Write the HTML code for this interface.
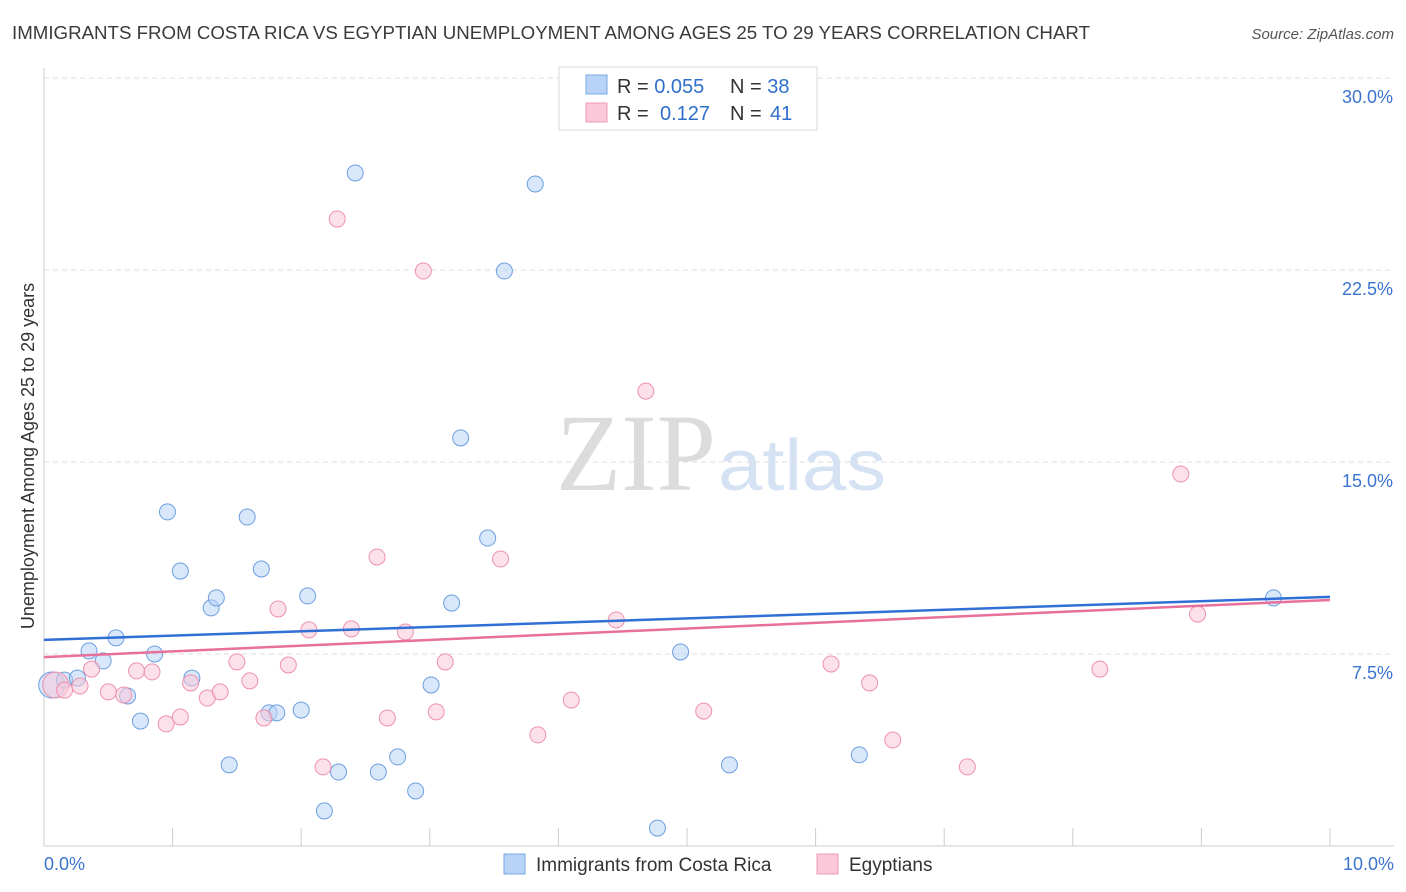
<!DOCTYPE html>
<html><head><meta charset="utf-8"><style>
body{margin:0;background:#fff;font-family:"Liberation Sans",sans-serif;}
svg{display:block}
</style></head><body>
<svg id="chart" width="1406" height="892">
<text x="12" y="39" font-size="18" fill="#3a3a3a" textLength="1078" lengthAdjust="spacingAndGlyphs">IMMIGRANTS FROM COSTA RICA VS EGYPTIAN UNEMPLOYMENT AMONG AGES 25 TO 29 YEARS CORRELATION CHART</text>
<text x="1394" y="39" font-size="15" fill="#555" font-style="italic" text-anchor="end">Source: ZipAtlas.com</text>
<text x="716" y="490" font-size="110" fill="#dcdcdc" text-anchor="end" font-family="Liberation Serif,serif" textLength="160" lengthAdjust="spacingAndGlyphs">ZIP</text>
<text x="718" y="490" font-size="72" fill="#d4e2f4" textLength="168" lengthAdjust="spacingAndGlyphs">atlas</text>
<text transform="translate(34,456) rotate(-90)" font-size="18" fill="#333" text-anchor="middle">Unemployment Among Ages 25 to 29 years</text>
<g id="grid"></g><g id="marks"></g>
<g>
<rect x="559" y="67" width="258" height="63" fill="#fff" stroke="#d8d8d8"/>
<rect x="586" y="75" width="21" height="19" fill="#b8d3f5" stroke="#7aa7e3"/>
<rect x="586" y="103" width="21" height="19" fill="#fac8d8" stroke="#f09ab8"/>
<text x="617" y="93" font-size="20" fill="#333">R = <tspan fill="#2f6fcc">0.055</tspan><tspan x="730">N = </tspan><tspan fill="#2f6fcc">38</tspan></text>
<text x="617" y="120" font-size="20" fill="#333">R = <tspan x="660" fill="#2f6fcc">0.127</tspan><tspan x="730">N = </tspan><tspan x="770" fill="#2f6fcc">41</tspan></text>
</g>
<g>
<rect x="504" y="854" width="21" height="20" fill="#b8d3f5" stroke="#7aa7e3"/>
<text x="536" y="871" font-size="19" fill="#333">Immigrants from Costa Rica</text>
<rect x="817" y="854" width="21" height="20" fill="#fac8d8" stroke="#f09ab8"/>
<text x="849" y="871" font-size="19" fill="#333">Egyptians</text>
</g>
</svg>
<script>
const yTicks=[7.5,15,22.5,30];
const yTickLabels=["7.5%","15.0%","22.5%","30.0%"];
const blueX=[0.06,0.16,0.26,0.35,0.46,0.56,0.65,0.75,0.86,0.96,1.06,1.15,1.30,1.34,1.44,1.58,1.69,1.75,1.81,2.00,2.05,2.18,2.29,2.42,2.60,2.75,2.89,3.01,3.17,3.24,3.45,3.58,3.82,4.77,4.95,5.33,6.34,9.56];
const blueY=[6.29,6.48,6.56,7.62,7.23,8.13,5.86,4.88,7.50,13.05,10.74,6.56,9.30,9.69,3.17,12.85,10.82,5.20,5.20,5.31,9.77,1.37,2.89,26.29,2.89,3.48,2.15,6.29,9.49,15.94,12.03,22.46,25.86,0.70,7.58,3.17,3.56,9.69];
const pinkX=[0.09,0.16,0.28,0.37,0.50,0.62,0.72,0.84,0.95,1.06,1.14,1.27,1.37,1.50,1.60,1.71,1.82,1.90,2.06,2.17,2.28,2.39,2.59,2.67,2.81,2.95,3.05,3.12,3.55,3.84,4.10,4.45,4.68,5.13,6.12,6.42,6.60,7.18,8.21,8.84,8.97];
const pinkY=[6.29,6.09,6.25,6.91,6.02,5.90,6.84,6.80,4.77,5.04,6.37,5.78,6.02,7.19,6.45,5.00,9.26,7.07,8.44,3.09,24.49,8.48,11.29,5.00,8.36,22.46,5.24,7.19,11.21,4.34,5.70,8.83,17.77,5.27,7.11,6.37,4.14,3.09,6.91,14.53,9.06];
const blueLine=[8.05,9.73], pinkLine=[7.38,9.61];
const X=v=>44+v/10*1286, Y=v=>846-v/30*768;
const NS="http://www.w3.org/2000/svg";
const grid=document.getElementById('grid'), marks=document.getElementById('marks');
function mk(p,tag,a){const e=document.createElementNS(NS,tag);for(const k in a)e.setAttribute(k,a[k]);p.appendChild(e);return e;}
yTicks.forEach((t,i)=>{
 const l=mk(grid,'line',{x1:44,x2:1394,y1:Y(t),y2:Y(t),stroke:'#dedede','stroke-dasharray':'5,4'});
 
 
 const tx=mk(grid,'text',{x:1393,y:Y(t)+25,'font-size':18,fill:'#3a74cf','text-anchor':'end'});
 tx.textContent=yTickLabels[i];
 
 
});
mk(grid,'line',{x1:44,x2:44,y1:68,y2:846,stroke:'#ccc'});
mk(grid,'line',{x1:44,x2:1394,y1:846,y2:846,stroke:'#ccc'});
for(let i=1;i<=10;i++){mk(grid,'line',{x1:X(i),x2:X(i),y1:828,y2:846,stroke:'#ccc'});}
const x0=mk(grid,'text',{x:44,y:870,'font-size':18,fill:'#3a74cf'});x0.textContent='0.0%';


const x1=mk(grid,'text',{x:1394,y:870,'font-size':18,fill:'#3a74cf','text-anchor':'end'});x1.textContent='10.0%';


function pts(xs,ys,fill,stroke,name){xs.forEach((x,i)=>{
 const c=mk(marks,'circle',{cx:X(x),cy:Y(ys[i]),r:i==0?13:8,fill:fill,'fill-opacity':0.55,stroke:stroke,'stroke-width':1});
 
 
});}
pts(blueX,blueY,'#b8d3f5','#6d9fe0','point-costa-rica');
pts(pinkX,pinkY,'#fac8d8','#ee90b0','point-egyptians');
const bl=mk(marks,'line',{x1:X(0),x2:X(10),y1:Y(blueLine[0]),y2:Y(blueLine[1]),stroke:'#2f6fd6','stroke-width':2.5});


const pl=mk(marks,'line',{x1:X(0),x2:X(10),y1:Y(pinkLine[0]),y2:Y(pinkLine[1]),stroke:'#e8709a','stroke-width':2.5});


</script>
</body></html>
